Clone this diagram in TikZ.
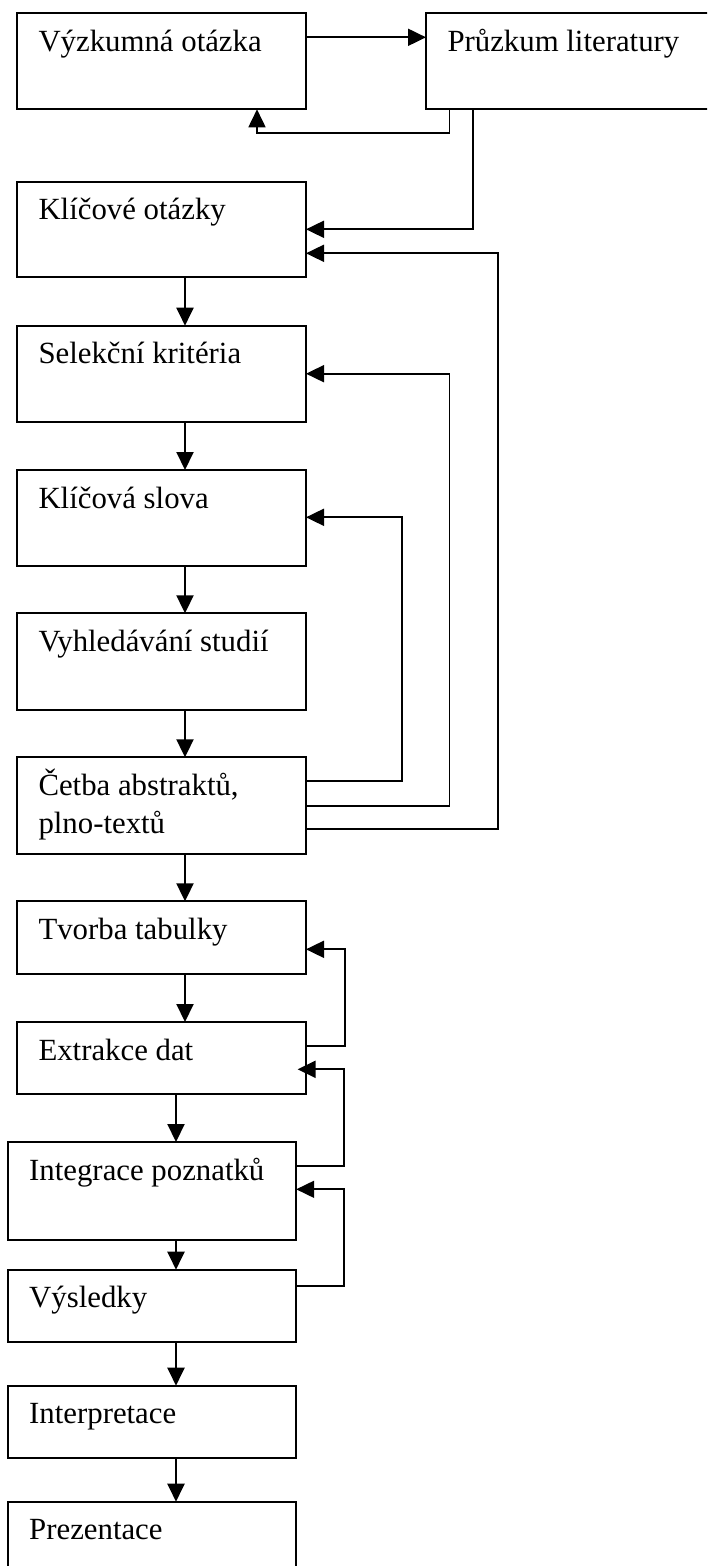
\documentclass[tikz,border=0pt]{standalone}
\usepackage{fontspec}
\setmainfont{Liberation Serif}
\usetikzlibrary{arrows.meta,calc}
\tikzset{
  box/.style={draw, line width=1.7pt, anchor=north west, inner sep=0pt, outer sep=0pt},
  lbl/.style={anchor=base west, inner sep=0pt, outer sep=0pt, font=\fontsize{30.8}{38.3}\selectfont},
  arr/.style={line width=2pt, -{Triangle[length=18pt,width=17pt]}},
  fb/.style={line width=1.8pt, -{Triangle[length=18pt,width=17pt]}}
}
\newcommand\mybx[6]{%
  \node[box, minimum width={#4-#2}, minimum height={#5-#3}] (#1) at (#2,#3) {};
  \node[lbl] (#1t) at ($(#1.north west)+(21.5,38)$) {#6};}
\begin{document}
\begin{tikzpicture}[x=1pt,y=-1pt]
\useasboundingbox (0,0) rectangle (707,1566);
\clip (0,0) rectangle (707,1566);
\fill[white] (0,0) rectangle (707,1566);
\mybx{vyz}{17}{13.3}{306}{109.3}{Výzkumná otázka}
\mybx{pru}{426}{13.3}{740}{109.3}{Průzkum literatury}
\mybx{klo}{17}{181.7}{306}{277.3}{Klíčové otázky}
\mybx{sel}{17}{325.7}{306}{421.7}{Selekční kritéria}
\mybx{kls}{17}{470}{306}{565.7}{Klíčová slova}
\mybx{vyh}{17}{613.3}{306}{710}{Vyhledávání studií}
\mybx{cet}{17}{757.3}{306}{853.7}{\begin{tabular}[t]{@{}l@{}}Četba abstraktů,\\plno-textů\end{tabular}}
\mybx{tvo}{17}{901.3}{306}{974}{Tvorba tabulky}
\mybx{ext}{17}{1022}{306}{1094}{Extrakce dat}
\mybx{int}{7.7}{1142}{296.2}{1240}{Integrace poznatků}
\mybx{vys}{7.7}{1269.7}{296.2}{1341.7}{Výsledky}
\mybx{inp}{7.7}{1385.7}{296.2}{1457.7}{Interpretace}
\mybx{pre}{7.7}{1501.7}{296.2}{1600}{Prezentace}
% main flow
\draw[arr] (vyz.east |- 0,37.3) -- (pru.west |- 0,37.3);
\draw[arr] (klo.south -| 185,0) -- (sel.north -| 185,0);
\draw[arr] (sel.south -| 185,0) -- (kls.north -| 185,0);
\draw[arr] (kls.south -| 185,0) -- (vyh.north -| 185,0);
\draw[arr] (vyh.south -| 185,0) -- (cet.north -| 185,0);
\draw[arr] (cet.south -| 185,0) -- (tvo.north -| 185,0);
\draw[arr] (tvo.south -| 185,0) -- (ext.north -| 185,0);
\draw[arr] (ext.south -| 176,0) -- (int.north -| 176,0);
\draw[arr] (int.south -| 176,0) -- (vys.north -| 176,0);
\draw[arr] (vys.south -| 176,0) -- (inp.north -| 176,0);
\draw[arr] (inp.south -| 176,0) -- (pre.north -| 176,0);
% feedback loops
\draw[fb] (pru.south -| 449.5,0) -- (449.5,133.3) -| (vyz.south -| 257,0);
\draw[fb] (pru.south -| 473,0) |- (klo.east |- 0,229.3);
\draw[fb] (cet.east |- 0,781) -| (401.7,517.3) -- (kls.east |- 0,517.3);
\draw[fb] (cet.east |- 0,806) -| (449.5,373.7) -- (sel.east |- 0,373.7);
\draw[fb] (cet.east |- 0,829.3) -| (498,253.3) -- (klo.east |- 0,253.3);
\draw[fb] (ext.east |- 0,1046) -| (345,949.3) -- (tvo.east |- 0,949.3);
\draw[fb, shorten >=-8.4pt] (int.east |- 0,1165.7) -| (344,1069.3) -- (ext.east |- 0,1069.3);
\draw[fb] (vys.east |- 0,1285.7) -| (344,1189.3) -- (int.east |- 0,1189.3);
\end{tikzpicture}
\end{document}
